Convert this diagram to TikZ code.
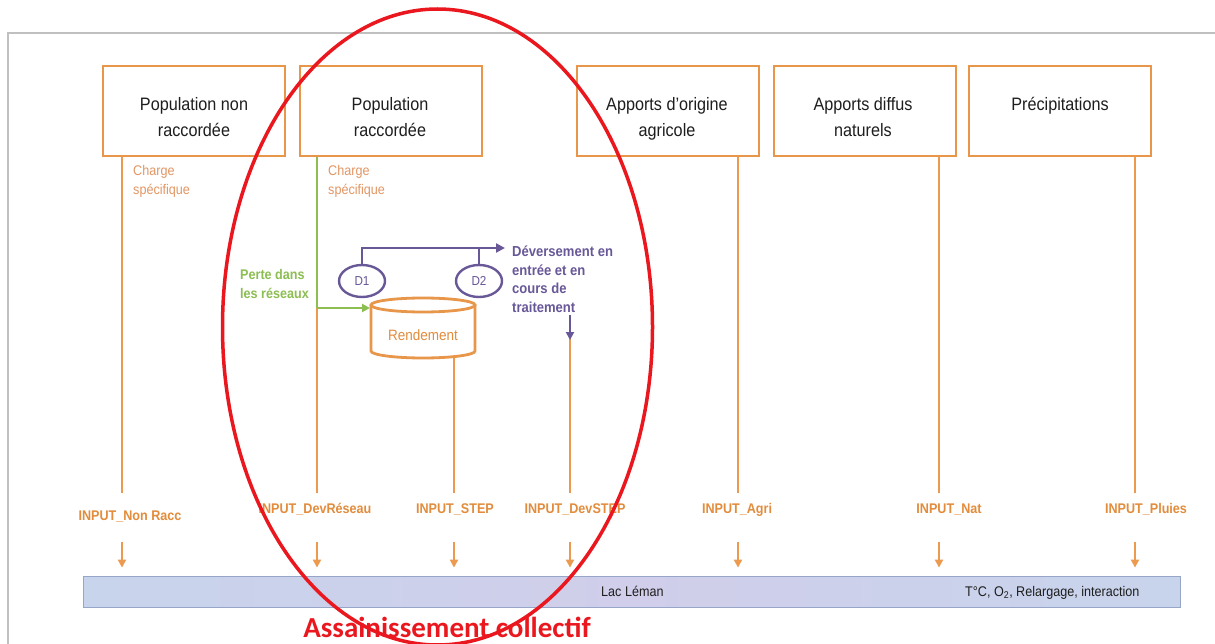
\documentclass[tikz,border=0pt]{standalone}
\usepackage{fontspec}
\setmainfont{Liberation Sans}[FakeStretch=0.9]
\newfontfamily\calfont{Carlito}
\usetikzlibrary{arrows.meta,shapes.geometric}
\definecolor{boxor}{RGB}{232,150,74}
\definecolor{lineor}{RGB}{236,154,80}
\definecolor{inpor}{RGB}{226,140,60}
\definecolor{chgor}{RGB}{226,150,100}
\definecolor{grn}{RGB}{140,190,82}
\definecolor{pur}{RGB}{104,88,152}
\definecolor{redc}{RGB}{234,24,30}
\definecolor{lakeA}{RGB}{200,212,236}
\definecolor{lakeB}{RGB}{208,206,234}
\definecolor{lakeline}{RGB}{150,165,200}
\definecolor{framec}{RGB}{192,192,192}
\definecolor{txt}{RGB}{30,30,30}
\begin{document}
\begin{tikzpicture}[x=1pt,y=1pt,
  box/.style={draw=boxor, line width=2.8pt, minimum width=182pt, minimum height=90pt, inner sep=0pt},
  boxtxt/.style={anchor=north, inner sep=0pt, align=center, text=txt, font=\fontsize{18}{26}\selectfont},
  ln/.style={draw=lineor, line width=2.5pt},
  arr/.style={draw=lineor, line width=2.5pt, -{Triangle[length=8pt,width=8pt]}},
  grnline/.style={draw=grn, line width=2.5pt},
  purline/.style={draw=pur, line width=2.8pt},
  inp/.style={anchor=base, inner sep=0pt, text=inpor, font=\fontsize{14}{16}\bfseries\selectfont},
  chg/.style={anchor=north west, inner sep=0pt, align=left, text=chgor, font=\fontsize{14}{19}\selectfont},
  dnode/.style={ellipse, draw=pur, line width=2.4pt, minimum width=46pt, minimum height=32pt, inner sep=0pt, text=pur, font=\fontsize{13}{15}\selectfont, fill=white},
  laketxt/.style={anchor=base west, inner sep=0pt, text=txt, font=\fontsize{14}{16}\selectfont}
]
\useasboundingbox (0,0) rectangle (1215,-644);
\fill[white] (0,0) rectangle (1215,-644);
\draw[framec, line width=2pt] (8,-644) -- (8,-33) -- (1215,-33);

% top boxes
\node[box] (b1) at (194,-111) {};
\node[box] (b2) at (391,-111) {};
\node[box] (b3) at (668,-111) {};
\node[box] (b4) at (865,-111) {};
\node[box] (b5) at (1060,-111) {};
\node[boxtxt] (t1) at (194,-97) {Population non\\raccordée};
\node[boxtxt] (t2) at (390,-97) {Population\\raccordée};
\node[boxtxt] (t3) at (667,-97) {Apports d'origine\\agricole};
\node[boxtxt] (t4) at (863,-97) {Apports diffus\\naturels};
\node[boxtxt] (t5) at (1060,-97) {Précipitations};

% charge labels
\node[chg] (c1) at (133,-165) {Charge\\spécifique};
\node[chg] (c2) at (328,-165) {Charge\\spécifique};

% line ends
\coordinate (e1) at (122,-493);
\coordinate (g) at (317,-308);
\coordinate (e2) at (317,-493);
\coordinate (cb) at (454,-357);
\coordinate (e3) at (454,-493);
\coordinate (pv1) at (570,-315);
\coordinate (pv2) at (570,-340);
\coordinate (pv3) at (570,-337);
\coordinate (e4) at (570,-493);
\coordinate (e5) at (738,-493);
\coordinate (e6) at (939,-493);
\coordinate (e7) at (1135,-493);
\coordinate (cylw) at (370,-308);

\draw[ln] (e1 |- b1.south) -- (e1);
\draw[grnline] (g |- b2.south) -- (g);
\draw[ln] (g) -- (e2);
\draw[ln] (cb) -- (e3);
\draw[ln] (pv3) -- (e4);
\draw[ln] (e5 |- b3.south) -- (e5);
\draw[ln] (e6 |- b4.south) -- (e6);
\draw[ln] (e7 |- b5.south) -- (e7);

% cylinder
\filldraw[draw=boxor, fill=white, line width=2.8pt] (371,-305) -- (371,-351) arc[start angle=180, end angle=360, x radius=52, y radius=7] -- (475,-305);
\draw[draw=boxor, fill=white, line width=2.8pt] (423,-305) ellipse [x radius=52, y radius=7];
\node[text=inpor, font=\fontsize{15}{17}\selectfont, inner sep=0pt] (rend) at (423,-335) {Rendement};

% green arrow
\draw[grnline, -{Triangle[length=8pt,width=8pt]}] (g) -- (cylw);
\node[anchor=north west, inner sep=0pt, align=left, text=grn, font=\fontsize{14}{19}\bfseries\selectfont] (perte) at (240,-269) {Perte dans\\les réseaux};

% purple overflow
\node[dnode] (d1) at (362,-281) {D1};
\node[dnode] (d2) at (479,-281) {D2};
\coordinate (ptop) at (505,-248);
\draw[purline, -{Triangle[length=9pt,width=9pt]}] (d1.north) -- (d1.north |- ptop) -- (ptop);
\draw[purline] (d2.north) -- (d2.north |- ptop);
\node[anchor=north west, inner sep=0pt, align=left, text=pur, font=\fontsize{14.5}{18.5}\bfseries\selectfont] (dev) at (512,-246) {Déversement en\\entrée et en\\cours de\\traitement};
\draw[purline, -{Triangle[length=8pt,width=8pt]}] (pv1) -- (pv2);

% input labels
\node[inp] (i1) at (130,-520) {INPUT\_Non Racc};
\node[inp] (i2) at (315,-513) {INPUT\_DevRéseau};
\node[inp] (i3) at (455,-513) {INPUT\_STEP};
\node[inp] (i4) at (575,-513) {INPUT\_DevSTEP};
\node[inp] (i5) at (737,-513) {INPUT\_Agri};
\node[inp] (i6) at (949,-513) {INPUT\_Nat};
\node[inp] (i7) at (1146,-513) {INPUT\_Pluies};

% lake
\node[draw=lakeline, line width=0.8pt, left color=lakeA, right color=lakeA, middle color=lakeB, minimum width=1097pt, minimum height=31pt, inner sep=0pt] (lake) at (631.5,-591.5) {};
\node[laketxt] (lac) at (601,-596) {Lac Léman};
\node[laketxt] (prm) at (965,-596) {T°C, O\textsubscript{2}, Relargage, interaction};

% arrows to lake
\foreach \n/\xx in {1/122,2/317,3/454,4/570,5/738,6/939,7/1135}{
  \coordinate (a\n) at (\xx,-542);
  \draw[arr, shorten >=8pt] (a\n) -- (a\n |- lake.north);
}

% red highlight
\node[anchor=base, inner sep=0pt, text=redc, font=\calfont\bfseries\fontsize{29}{32}\selectfont] (ac) at (447,-637) {Assainissement collectif};
\draw[draw=redc, line width=3.5pt] (437.5,-327) ellipse [x radius=215, y radius=318];
\end{tikzpicture}
\end{document}
